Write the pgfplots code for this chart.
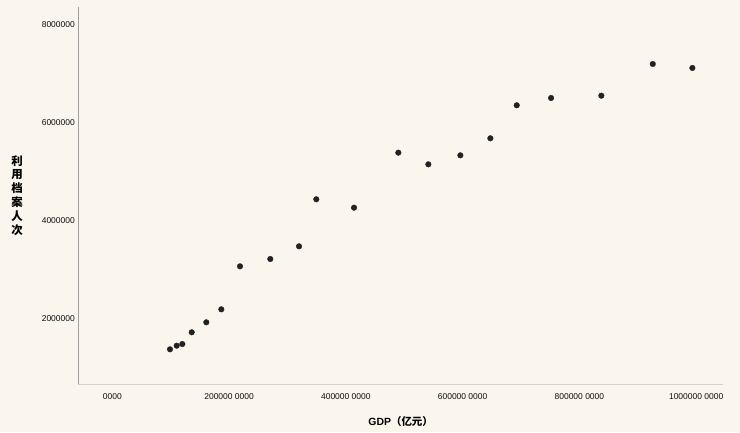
\documentclass[border=0pt]{standalone}
\usepackage{fontspec}
\setmainfont{Liberation Sans}
\newfontfamily\cjk{Noto Sans CJK SC}
\usepackage{pgfplots}
\pgfplotsset{compat=1.18}
\definecolor{paper}{HTML}{FAF6EE}
\definecolor{dotc}{HTML}{222222}

\begin{document}
\begin{tikzpicture}[x=1bp,y=1bp]
  \fill[paper] (0,0) rectangle (740,432);
  \begin{axis}[
    at={(78.3bp,47.7bp)}, anchor=south west,
    scale only axis,
    width=644.7bp, height=377.6bp,
    xmin=-58240, xmax=1046000,
    ymin=650300, ymax=8372000,
    scaled ticks=false,
    axis x line*=bottom, axis y line*=left,
    x axis line style={gray!35, line width=1.2pt},
    y axis line style={gray!75, line width=1.1pt},
    major tick length=0pt,
    xtick={0,200000,400000,600000,800000,1000000},
    xticklabels={0000,200000 0000,400000 0000,600000 0000,800000 0000,1000000 0000},
    ytick={2000000,4000000,6000000,8000000},
    yticklabels={2000000,4000000,6000000,8000000},
    tick label style={font=\fontsize{8.5}{9}\selectfont, text=black!95},
    xticklabel style={yshift=-6bp},
    xlabel={\bfseries GDP{\cjk （亿元）}},
    xlabel style={font=\fontsize{10.5}{12}\selectfont, at={(axis description cs:0.5,-0.098)}, anchor=center},
    ylabel={\cjk\bfseries\shortstack{利\\用\\档\\案\\人\\次}},
    ylabel style={font=\fontsize{11.5}{13}\selectfont, rotate=-90, at={(axis description cs:-0.095,0.5)}, anchor=center},
  ]
    \addplot[only marks, mark=*, mark size=2.8bp, color=dotc] coordinates {
      (98840,1366000) (110300,1440000) (119900,1474000) (136000,1714000)
      (161000,1918000) (186700,2184000) (218700,3063000) (270600,3213000)
      (319800,3472000) (349400,4434000) (414000,4262000) (489900,5387000)
      (541300,5149000) (596100,5333000) (647500,5681000) (692700,6356000)
      (751500,6505000) (837600,6552000) (925700,7200000) (993500,7119000)
    };
  \end{axis}
  \pgfresetboundingbox
  \path (0,0) rectangle (740,432);
\end{tikzpicture}
\end{document}
